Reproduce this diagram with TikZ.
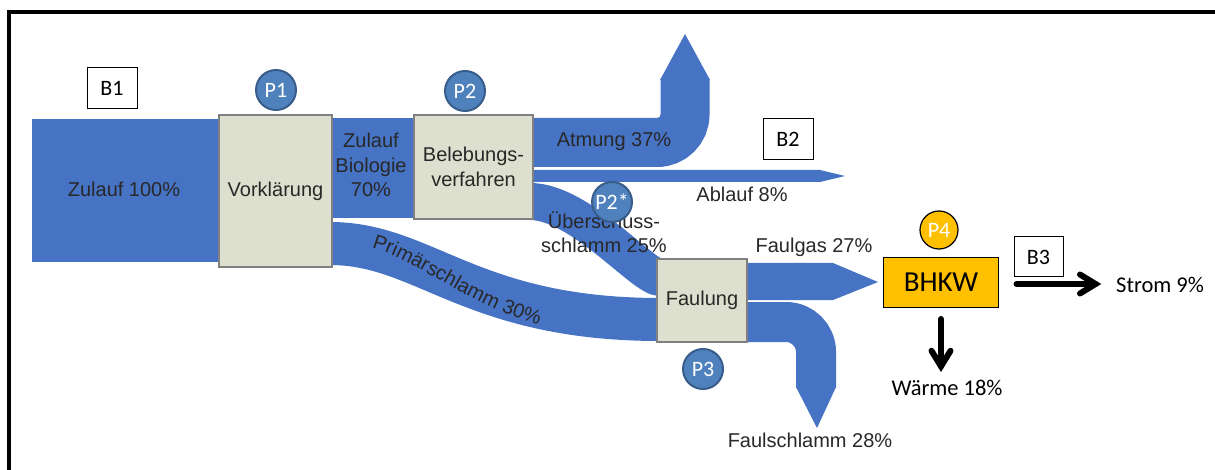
\documentclass[tikz,border=0pt]{standalone}
\usepackage{fontspec}
\setmainfont{Carlito}
\newfontfamily\arialf{Liberation Sans}
\usetikzlibrary{decorations.text}
\definecolor{flow}{RGB}{70,115,196}
\definecolor{boxfill}{RGB}{221,224,206}
\definecolor{boxline}{RGB}{128,128,128}
\definecolor{pfill}{RGB}{79,129,189}
\definecolor{pline}{RGB}{56,93,138}
\definecolor{gold}{RGB}{255,192,0}
\definecolor{lbl}{RGB}{40,40,40}
\newcommand\lab{\arialf\fontsize{20}{24.5}\selectfont}
\begin{document}
\begin{tikzpicture}[x=1pt,y=-1pt,
  procbox/.style={draw=boxline, line width=1.5pt, fill=boxfill, inner sep=0pt, text=lbl, font=\lab, align=center},
  pcirc/.style={circle, draw=pline, line width=2pt, fill=pfill, minimum size=40pt, inner sep=0pt, text=white, font=\fontsize{22}{26}\selectfont},
  bbox/.style={draw=black, line width=1pt, fill=white, minimum width=50pt, minimum height=41pt, inner sep=0pt, font=\fontsize{22}{26}\selectfont},
  flowlabel/.style={text=lbl, font=\lab, inner sep=0pt, align=center},
  clabel/.style={text=black, font=\fontsize{22.5}{27}\selectfont, inner sep=0pt},
  thickarrow/.style={line width=6pt, line cap=round, line join=miter, draw=black}
]
\useasboundingbox (0,0) rectangle (1215,470);
\fill[white] (0,0) rectangle (1215,470);
% frame
\draw[line width=4pt] (9,470) -- (9,12) -- (1215,12);

% flows
\fill[flow] (32,119) rectangle (222,262);
\fill[flow] (330,118) rectangle (416,218);
\draw[flow, line width=43pt] (330,243.5) .. controls (425,243.5) and (470,319.5) .. (660,319.5);
\draw[flow, line width=37pt] (530,201.5) .. controls (580,201.5) and (643,277.5) .. (660,277.5);
\draw[flow, line width=49pt, rounded corners=28pt] (530,142.5) -- (685,142.5) -- (685,79);
\fill[flow] (660,80) -- (685,34) -- (710,80) -- cycle;
\fill[flow] (530,170) -- (820,170) -- (845,176) -- (820,182) -- (530,182) -- cycle;
\fill[flow] (745,263) -- (833,263) -- (878,282) -- (833,300) -- (745,300) -- cycle;
\draw[flow, line width=40pt, rounded corners=30pt] (745,322) -- (816,322) -- (816,388);
\fill[flow] (796,387) -- (836,387) -- (817,428) -- cycle;

% curved label
\path[decorate, decoration={text along path, text={|\lab\color{lbl}|Primärschlamm 30{\%}}, text align={left indent=7pt}}]
  (365,246) .. controls (420,258) and (470,312) .. (560,330);

% process boxes
\node[procbox, minimum width=113pt, minimum height=152pt] (vork) at (275.5,191) {Vorklärung};
\node[procbox, minimum width=119pt, minimum height=104pt] (beleb) at (473.5,167) {Belebungs-\\verfahren};
\node[procbox, minimum width=90pt, minimum height=83pt] (faul) at (702,300.5) {Faulung};
\node[draw=black, line width=1pt, fill=gold, minimum width=115pt, minimum height=49pt, inner sep=0pt, font=\fontsize{29}{34}\selectfont] (bhkw) at (941,282.5) {BHKW};

% flow labels
\node[flowlabel, anchor=base] (lzul) at (124,197) {Zulauf 100\%};
\node[flowlabel, anchor=base] (lbio) at (371,197) {Zulauf\\Biologie\\70\%};
\node[flowlabel, anchor=base] (latm) at (614,147) {Atmung 37\%};
\node[flowlabel, anchor=base] (labl) at (742,202) {Ablauf 8\%};
\node[flowlabel, anchor=base] (lues) at (604,253) {Überschuss-\\schlamm 25\%};
\node[flowlabel, anchor=base] (lgas) at (814,253) {Faulgas 27\%};
\node[flowlabel, anchor=base] (lfs) at (810,447) {Faulschlamm 28\%};

% circles
\node[pcirc] (p1) at (276,90) {P1};
\node[pcirc] (p2) at (465,91) {P2};
\node[pcirc] (p2s) at (612,202) {P2*};
\node[pcirc] (p3) at (703,369) {P3};
\node[pcirc, fill=gold, draw=black, line width=1.2pt, minimum size=38pt] (p4) at (939,230) {P4};

% B boxes
\node[bbox] (b1) at (112,88.5) {B1};
\node[bbox] (b2) at (788,139) {B2};
\node[bbox, minimum width=49pt, minimum height=40pt] (b3) at (1038.5,257) {B3};

% outputs
\node[clabel, anchor=base west] (strom) at (1116,292) {Strom 9\%};
\node[clabel, anchor=base] (waerme) at (947,395) {Wärme 18\%};
\coordinate (stip) at (1095.5,284);
\coordinate (wtip) at (941,366.3);
\draw[thickarrow] (bhkw.east) ++(17.5,1.5) -- (stip);
\draw[thickarrow] (stip) ++(-15.5,-9.5) -- (stip) -- +(-15.5,9.5);
\draw[thickarrow] (bhkw.south) ++(0,11.5) -- (wtip);
\draw[thickarrow] (wtip) ++(-9.5,-15.5) -- (wtip) -- +(9.5,-15.5);
\end{tikzpicture}
\end{document}
